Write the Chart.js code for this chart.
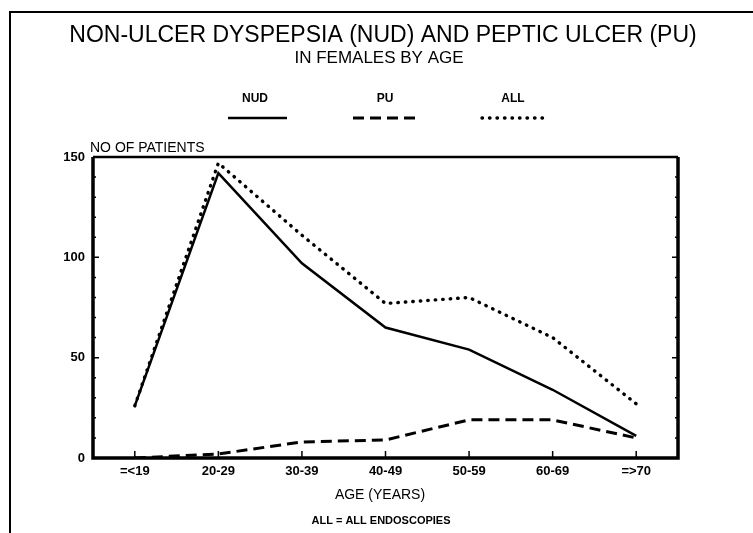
<!DOCTYPE html>
<html>
<head>
<meta charset="utf-8">
<script src="https://cdn.jsdelivr.net/npm/chart.js@4"></script>
<style>
html,body{margin:0;padding:0;background:#fff;}
#wrap{width:753px;height:533px;position:relative;}
</style>
</head>
<body>
<div id="wrap"><canvas id="c" width="753" height="533"></canvas></div>
<script>
const categories = ["=<19", "20-29", "30-39", "40-49", "50-59", "60-69", "=>70"];
const nudValues = [26, 142, 97, 65, 54, 34, 11];
const puValues = [0, 2, 8, 9, 19, 19, 10];
const allValues = [26, 147, 111, 77, 80, 60, 27];
const yTickValues = [0, 50, 100, 150];
const seriesNames = ["NUD", "PU", "ALL"];
const titleText = "NON-ULCER DYSPEPSIA (NUD) AND PEPTIC ULCER (PU)";
const subtitleText = "IN FEMALES BY AGE";
const yAxisTitle = "NO OF PATIENTS";
const xAxisTitle = "AGE (YEARS)";
const footnote = "ALL = ALL ENDOSCOPIES";

const NARROW = '"Liberation Sans Narrow", "Liberation Sans", Arial, sans-serif';
const SANS = '"Liberation Sans", Arial, sans-serif';

const decorPlugin = {
  id: 'decor',
  afterDraw(chart) {
    const ctx = chart.ctx;
    const a = chart.chartArea;
    const xs = chart.scales.x, ys = chart.scales.y;
    ctx.save();
    ctx.strokeStyle = '#000';
    ctx.fillStyle = '#000';
    // outer frame (top and left)
    ctx.lineWidth = 2;
    ctx.beginPath();
    ctx.moveTo(753, 12); ctx.lineTo(10, 12); ctx.lineTo(10, 533);
    ctx.stroke();
    // plot box
    ctx.lineWidth = 3.5;
    ctx.beginPath();
    ctx.moveTo(a.left, a.top); ctx.lineTo(a.left, a.bottom); ctx.lineTo(a.right, a.bottom); ctx.lineTo(a.right, a.top);
    ctx.stroke();
    ctx.lineWidth = 2.5;
    ctx.beginPath();
    ctx.moveTo(a.left, a.top); ctx.lineTo(a.right, a.top);
    ctx.stroke();
    // y minor/major ticks inward
    ctx.lineWidth = 1.5;
    for (let v = 10; v < 150; v += 10) {
      const y = ys.getPixelForValue(v);
      const len = (v % 50 === 0) ? 6 : 3;
      ctx.beginPath();
      ctx.moveTo(a.left, y); ctx.lineTo(a.left + len, y);
      ctx.moveTo(a.right, y); ctx.lineTo(a.right - len, y);
      ctx.stroke();
    }
    // x ticks inward
    categories.forEach((c, i) => {
      const x = xs.getPixelForValue(i);
      ctx.beginPath();
      ctx.moveTo(x, a.bottom); ctx.lineTo(x, a.bottom - 7);
      ctx.stroke();
    });
    // titles
    ctx.textAlign = 'center';
    ctx.textBaseline = 'alphabetic';
    ctx.font = '23px ' + SANS;
    ctx.fillText(titleText, 383, 42);
    ctx.font = '17px ' + SANS;
    ctx.fillText(subtitleText, 379, 63);
    // legend
    const legendX = [255, 385, 513];
    const lineX = [[228, 287], [353, 416], [482, 543]];
    ctx.font = 'bold 12px ' + NARROW;
    chart.data.datasets.forEach((ds, i) => {
      ctx.fillStyle = '#000';
      ctx.fillText(ds.label, legendX[i], 102);
      ctx.save();
      ctx.strokeStyle = ds.borderColor;
      ctx.lineWidth = ds.borderWidth;
      ctx.lineCap = ds.borderCapStyle || 'butt';
      ctx.setLineDash(ds.borderDash || []);
      ctx.beginPath();
      ctx.moveTo(lineX[i][0], 118); ctx.lineTo(lineX[i][1], 118);
      ctx.stroke();
      ctx.restore();
    });
    // axis titles
    ctx.textAlign = 'left';
    ctx.font = '14px ' + SANS;
    ctx.fillText(yAxisTitle, 90, 152);
    ctx.textAlign = 'center';
    ctx.font = '14px ' + SANS;
    ctx.fillText(xAxisTitle, 380, 499);
    ctx.font = 'bold 11px ' + NARROW;
    ctx.fillText(footnote, 381, 524);
    ctx.restore();
  }
};

new Chart(document.getElementById('c'), {
  type: 'line',
  data: {
    labels: categories,
    datasets: [
      { label: seriesNames[0], data: nudValues, borderColor: '#000', borderWidth: 2.5, borderDash: [], pointRadius: 0, tension: 0, fill: false },
      { label: seriesNames[1], data: puValues, borderColor: '#000', borderWidth: 3, borderDash: [11, 6], pointRadius: 0, tension: 0, fill: false },
      { label: seriesNames[2], data: allValues, borderColor: '#000', borderWidth: 3.4, borderDash: [0.5, 7], borderCapStyle: 'round', pointRadius: 0, tension: 0, fill: false }
    ]
  },
  options: {
    responsive: false,
    animation: false,
    devicePixelRatio: 1,
    layout: { padding: { left: 0, top: 157, right: 75, bottom: 0 } },
    plugins: { legend: { display: false }, title: { display: false }, tooltip: { enabled: false } },
    scales: {
      x: {
        type: 'category',
        offset: true,
        grid: { display: false, drawTicks: false },
        border: { display: false },
        ticks: { color: '#000', font: { family: NARROW, size: 13, weight: 'bold' }, padding: 6, maxRotation: 0 },
        afterFit(s) { s.height = 75; }
      },
      y: {
        min: 0, max: 150,
        grid: { display: false, drawTicks: false },
        border: { display: false },
        afterBuildTicks(s) { s.ticks = yTickValues.map(v => ({ value: v })); },
        ticks: { color: '#000', font: { family: NARROW, size: 13, weight: 'bold' }, padding: 8 },
        afterFit(s) { s.width = 93; }
      }
    }
  },
  plugins: [decorPlugin]
});
</script>
</body>
</html>
